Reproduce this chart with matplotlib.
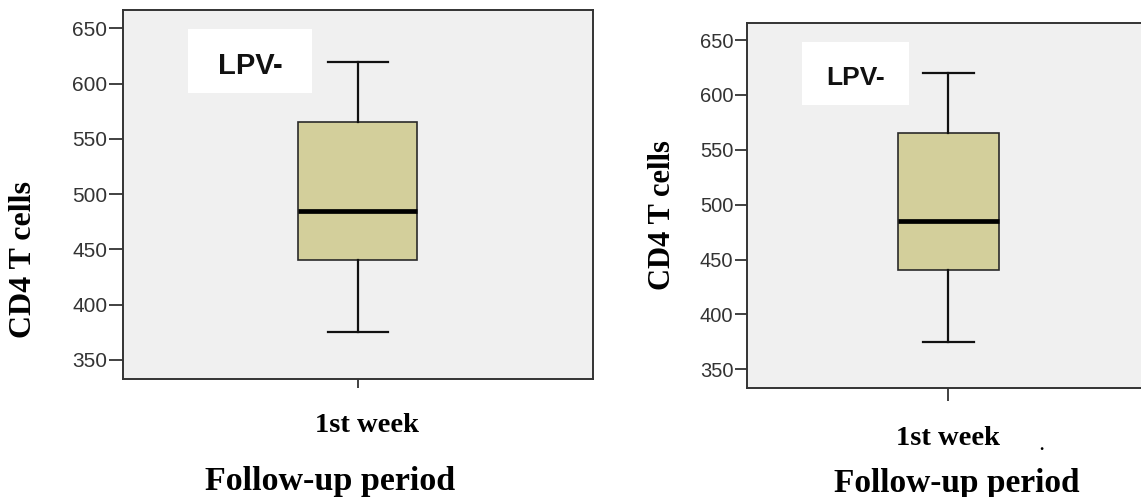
import matplotlib
matplotlib.use("Agg")
import matplotlib.pyplot as plt
from matplotlib.patches import Rectangle

# ---- data ----
categories = ["1st week"]
panel_labels = ["LPV-", "LPV-"]
q1 = [440, 440]
median = [485, 485]
q3 = [565, 565]
whisker_low = [375, 375]
whisker_high = [620, 620]
yticks = [350, 400, 450, 500, 550, 600, 650]
ylabel = "CD4 T cells"
xlabel = "Follow-up period"

W, H = 1141, 497
DPI = 100
fig = plt.figure(figsize=(W / DPI, H / DPI), dpi=DPI)
fig.patch.set_facecolor("white")

def px_axes(x0, y0, x1, y1):
    return fig.add_axes([x0 / W, 1 - y1 / H, (x1 - x0) / W, (y1 - y0) / H])

panels = [
    dict(rect=(122.7, 10, 593, 379), ylim=(332.8, 666.6), width=0.506,
         tick_font=(["Liberation Sans", "DejaVu Sans"], 15), ticklen=10, xticklen=6.5,
         ylab_xy=(23.4, 259), ylab_size=23,
         wk_xy=(367, 431.7), fu_xy=(329.7, 490), fu_size=24.5,
         lab_size=21),
    dict(rect=(746.7, 22.7, 1150, 387.7), ylim=(333.2, 665.8), width=0.5,
         tick_font=(["Liberation Sans Narrow", "Liberation Sans", "DejaVu Sans"], 14.5),
         ticklen=8.4, xticklen=9.5,
         ylab_xy=(662.5, 215), ylab_size=22,
         wk_xy=(947.5, 445), fu_xy=(957.2, 491.7), fu_size=24,
         lab_size=19),
]

for i, p in enumerate(panels):
    ax = px_axes(*p["rect"])
    ax.set_facecolor("#F0F0F0")
    stats = [dict(med=median[i], q1=q1[i], q3=q3[i],
                  whislo=whisker_low[i], whishi=whisker_high[i],
                  fliers=[], label=categories[0])]
    ax.bxp(stats, positions=[0], widths=p["width"], capwidths=p["width"] / 2,
           showfliers=False, patch_artist=True,
           boxprops=dict(facecolor="#D3CF9B", edgecolor="#2a2a2a", linewidth=1.2),
           medianprops=dict(color="black", linewidth=3.4, solid_capstyle="butt"),
           whiskerprops=dict(color="#111111", linewidth=1.6),
           capprops=dict(color="#111111", linewidth=1.6))
    ax.set_xlim(-1, 1)
    ax.set_ylim(*p["ylim"])
    ax.set_yticks(yticks)
    ax.set_xticks([0])
    ax.set_xticklabels([""])
    for s in ax.spines.values():
        s.set_color("#333333")
        s.set_linewidth(1.4)
    ax.tick_params(axis="y", length=p["ticklen"], width=1.3, color="#333333",
                   pad=1.2, labelcolor="#333333",
                   labelsize=p["tick_font"][1],
                   labelfontfamily=p["tick_font"][0])
    ax.tick_params(axis="x", length=p["xticklen"], width=1.3, color="#333333")

    # white label box with panel tag
    ax.add_patch(Rectangle((0.138, 0.774), 0.264, 0.174, transform=ax.transAxes,
                           facecolor="white", edgecolor="none", zorder=3))
    ax.text(0.271, 0.849, panel_labels[i], transform=ax.transAxes,
            ha="center", va="center", fontfamily="Liberation Sans",
            fontweight="bold", fontsize=p["lab_size"], color="#111111", zorder=4)

    # axis titles placed in figure pixels
    x, y = p["ylab_xy"]
    fig.text(x / W, 1 - y / H, ylabel, rotation=90, ha="center", va="center",
             fontfamily="Liberation Serif", fontweight="bold",
             fontsize=p["ylab_size"])
    x, y = p["wk_xy"]
    fig.text(x / W, 1 - y / H, categories[0], ha="center", va="baseline",
             fontfamily="Liberation Serif", fontweight="bold", fontsize=20.5)
    x, y = p["fu_xy"]
    fig.text(x / W, 1 - y / H, xlabel, ha="center", va="baseline",
             fontfamily="Liberation Serif", fontweight="bold",
             fontsize=p["fu_size"])

# stray dot seen in the right panel
fig.text(1041.7 / W, 1 - 450 / H, ".", ha="center", va="baseline",
         fontfamily="Liberation Serif", fontweight="bold", fontsize=12)

fig.savefig("out.png", dpi=DPI)
